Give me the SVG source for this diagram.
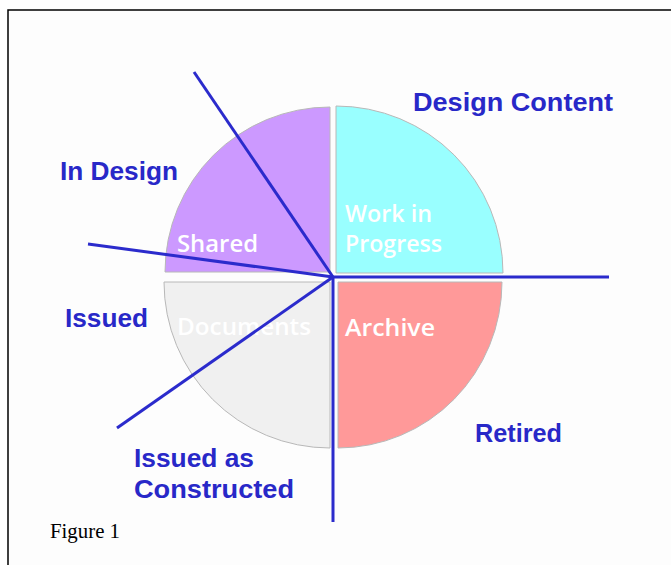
<svg xmlns="http://www.w3.org/2000/svg" width="671" height="565" viewBox="0 0 671 565">
  <style>
    .frame { fill: #fdfdfd; stroke: #000; stroke-width: 1.5; }
    .slice { stroke: #b8b8b8; stroke-width: 1; }
    .spoke { stroke: #2b2bcc; stroke-width: 3; stroke-linecap: butt; fill: none; }
    .label { font-family: "Liberation Sans", Arial, sans-serif; font-weight: bold; font-size: 25px; fill: #2828c8; }
    .inner { font-family: "Open Sans", "Liberation Sans", sans-serif; font-weight: 600; font-size: 23px; fill: #ffffff; }
    .caption { font-family: "Liberation Serif", "Times New Roman", serif; font-size: 20px; fill: #000; }
  </style>

  <rect class="frame" x="8" y="10" width="680" height="580"/>

  <!-- pie quadrants -->
  <g id="shared">
    <path class="slice" d="M330 272 L165 272 A165 165 0 0 1 330 107 Z" fill="#cc99ff"/>
    <text class="inner" x="177" y="252" textLength="81" lengthAdjust="spacingAndGlyphs">Shared</text>
  </g>
  <g id="work-in-progress">
    <path class="slice" d="M336 273 L336 106 A167 167 0 0 1 503 273 Z" fill="#99ffff"/>
    <text class="inner" x="345" y="222" textLength="87" lengthAdjust="spacingAndGlyphs">Work in</text>
    <text class="inner" x="345" y="252" textLength="97" lengthAdjust="spacingAndGlyphs">Progress</text>
  </g>
  <g id="archive">
    <path class="slice" d="M338 282 L502 282 A164 166 0 0 1 338 448 Z" fill="#ff9999"/>
    <text class="inner" x="345" y="336" textLength="90" lengthAdjust="spacingAndGlyphs">Archive</text>
  </g>
  <g id="documents">
    <path class="slice" d="M330 282 L330 448 A166 166 0 0 1 164 282 Z" fill="#f0f0f0"/>
    <text class="inner" x="177" y="335" textLength="134" lengthAdjust="spacingAndGlyphs">Documents</text>
  </g>

  <!-- dividing spokes -->
  <g id="connectors">
    <line class="spoke" x1="194" y1="72" x2="333" y2="277"/>
    <line class="spoke" x1="88" y1="244" x2="333" y2="277"/>
    <line class="spoke" x1="333" y1="277" x2="609" y2="277"/>
    <line class="spoke" x1="333" y1="277" x2="333" y2="522"/>
    <line class="spoke" x1="117" y1="428" x2="333" y2="277"/>
  </g>

  <!-- outer labels -->
  <g id="design-content">
    <text class="label" x="413" y="111" textLength="200" lengthAdjust="spacingAndGlyphs">Design Content</text>
  </g>
  <g id="in-design">
    <text class="label" x="60" y="180" textLength="118" lengthAdjust="spacingAndGlyphs">In Design</text>
  </g>
  <g id="issued">
    <text class="label" x="65" y="327" textLength="83" lengthAdjust="spacingAndGlyphs">Issued</text>
  </g>
  <g id="retired">
    <text class="label" x="475" y="442" textLength="87" lengthAdjust="spacingAndGlyphs">Retired</text>
  </g>
  <g id="issued-as-constructed">
    <text class="label" x="134" y="467" textLength="120" lengthAdjust="spacingAndGlyphs">Issued as</text>
    <text class="label" x="134" y="498" textLength="160" lengthAdjust="spacingAndGlyphs">Constructed</text>
  </g>

  <text class="caption" x="50" y="538" textLength="70" lengthAdjust="spacingAndGlyphs">Figure 1</text>
</svg>
